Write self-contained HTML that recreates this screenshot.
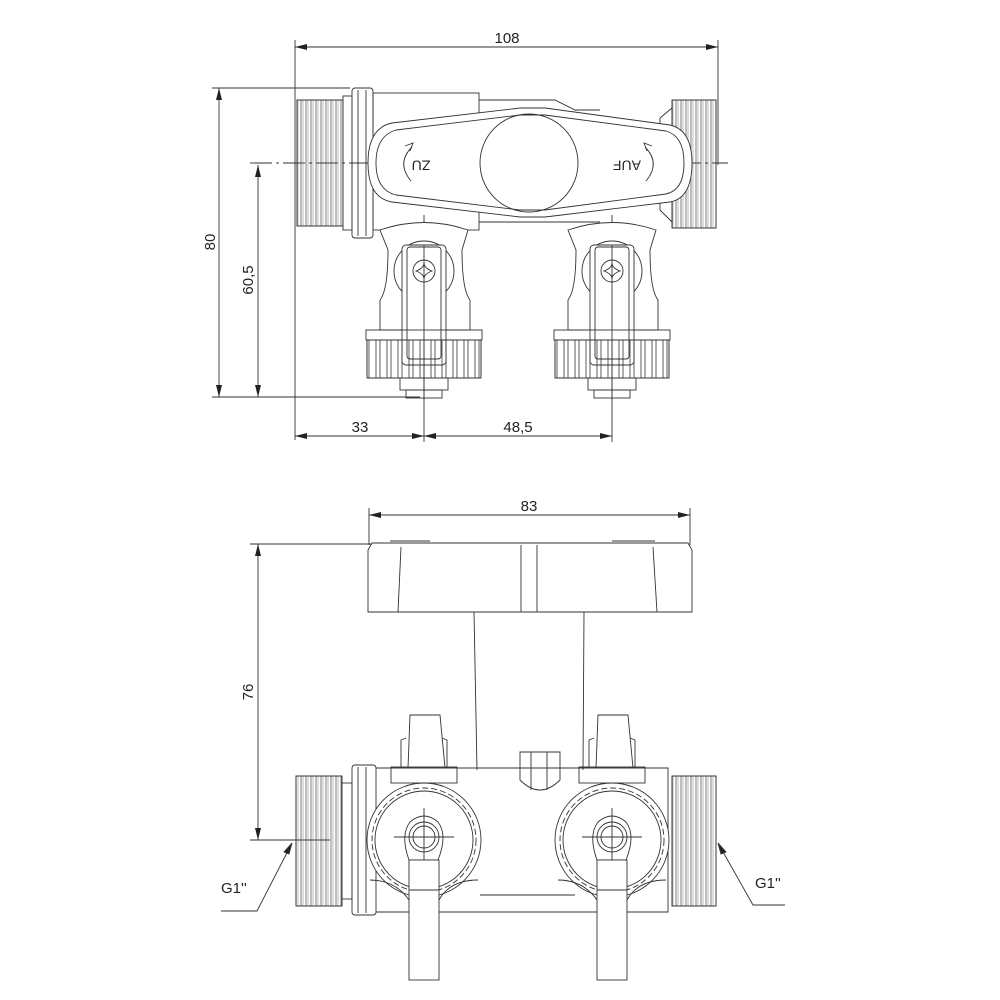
<!DOCTYPE html>
<html><head><meta charset="utf-8"><style>
html,body{margin:0;padding:0;background:#fff}
svg{display:block}
text{font-family:"Liberation Sans",sans-serif;fill:#222}
</style></head><body>
<svg width="1000" height="1000" viewBox="0 0 1000 1000" xmlns="http://www.w3.org/2000/svg">
<defs>
<marker id="a" markerWidth="12" markerHeight="6" refX="12" refY="3" orient="auto-start-reverse" markerUnits="userSpaceOnUse"><path d="M0,0 L12,3 L0,6z" fill="#222"/></marker>
<pattern id="th" width="5" height="10" patternUnits="userSpaceOnUse"><line x1="1" y1="0" x2="1" y2="10" stroke="#444" stroke-width="0.7"/><line x1="3" y1="0" x2="3" y2="10" stroke="#777" stroke-width="0.5"/></pattern>
<pattern id="kn" width="11" height="10" patternUnits="userSpaceOnUse"><line x1="2" y1="0" x2="2" y2="10" stroke="#333" stroke-width="0.8"/><line x1="6" y1="0" x2="6" y2="10" stroke="#333" stroke-width="0.8"/></pattern>
</defs>
<g fill="none" stroke="#333" stroke-width="0.9">
<line x1="295" y1="40" x2="295" y2="440"/>
<line x1="718" y1="40" x2="718" y2="165"/>
<line x1="295" y1="47" x2="718" y2="47" marker-start="url(#a)" marker-end="url(#a)"/>
<line x1="212" y1="88" x2="350" y2="88"/>
<line x1="212" y1="397" x2="420" y2="397"/>
<line x1="219" y1="88" x2="219" y2="397" marker-start="url(#a)" marker-end="url(#a)"/>
<line x1="258" y1="165" x2="258" y2="397" marker-start="url(#a)" marker-end="url(#a)"/>
<line x1="250" y1="163" x2="728" y2="163" stroke-dasharray="22,4,3,4"/>
<line x1="424" y1="215" x2="424" y2="442"/>
<line x1="612" y1="215" x2="612" y2="442"/>
<line x1="295" y1="436" x2="424" y2="436" marker-start="url(#a)" marker-end="url(#a)"/>
<line x1="424" y1="436" x2="612" y2="436" marker-start="url(#a)" marker-end="url(#a)"/>
<rect x="297" y="100" width="46" height="126" fill="url(#th)"/>
<rect x="297" y="100" width="46" height="126"/>
<rect x="343" y="96" width="9" height="134"/>
<rect x="352" y="88" width="21" height="150" rx="3"/>
<line x1="358" y1="90" x2="358" y2="236"/><line x1="366" y1="90" x2="366" y2="236"/>
<rect x="373" y="93" width="106" height="137"/>
<path d="M479 100 H555 L575 110 H600 M600 222 H479"/>
<rect x="672" y="100" width="44" height="128" fill="url(#th)"/>
<rect x="672" y="100" width="44" height="128"/>
<path d="M660 118 L672 108 M660 210 L672 222 M660 118 V210"/>
<path d="M392 123 L520 108 L545 108 L670 125 Q692 130 692 163 Q692 198 670 202 L545 217 L520 217 L392 202 Q368 198 368 163 Q368 128 392 123Z" fill="#fff"/>
<path d="M396 130 L520 115 L545 115 L666 131 Q684 136 684 163 Q684 190 666 194 L545 210 L520 210 L396 195 Q376 190 376 163 Q376 136 396 130Z"/>
<circle cx="529" cy="163" r="49"/>
<path d="M412 147 Q396 163 411 181"/><path d="M405 146 L413 143 L410 151"/>
<path d="M645 147 Q661 163 646 181"/><path d="M652 146 L644 143 L647 151"/>
<g id="v1">
<path d="M380 230 Q424 215 468 230 L462 250 Q462 290 470 300 L470 330 L380 330 L380 300 Q388 290 388 250Z" fill="#fff"/>
<circle cx="424" cy="271" r="30"/>
<rect x="402" y="245" width="44" height="120" rx="4" fill="#fff"/>
<rect x="407" y="247" width="34" height="112" rx="3"/>
<circle cx="424" cy="271" r="11"/>
<path d="M416 271 Q424 268 424 263 Q424 268 432 271 Q424 274 424 279 Q424 274 416 271Z"/>
<rect x="366" y="330" width="116" height="10"/>
<rect x="367" y="340" width="114" height="38" fill="url(#kn)"/>
<rect x="367" y="340" width="114" height="38" fill="none"/>
<rect x="400" y="378" width="48" height="12"/>
<rect x="406" y="390" width="36" height="8"/>
<line x1="424" y1="245" x2="424" y2="400"/>
</g>
<use href="#v1" transform="translate(188,0)"/>
<line x1="369" y1="508" x2="369" y2="545"/>
<line x1="690" y1="508" x2="690" y2="545"/>
<line x1="369" y1="515" x2="690" y2="515" marker-start="url(#a)" marker-end="url(#a)"/>
<line x1="250" y1="544" x2="372" y2="544"/>
<line x1="250" y1="840" x2="330" y2="840"/>
<line x1="258" y1="544" x2="258" y2="840" marker-start="url(#a)" marker-end="url(#a)"/>
<path d="M372 543 L688 543 L692 550 L692 612 L368 612 L368 550Z"/>
<line x1="401" y1="547" x2="398" y2="612"/><line x1="653" y1="547" x2="657" y2="612"/>
<line x1="521" y1="545" x2="521" y2="612"/><line x1="537" y1="545" x2="537" y2="612"/>
<line x1="390" y1="541" x2="430" y2="541"/><line x1="612" y1="541" x2="655" y2="541"/>
<path d="M474 612 L477 770 M584 612 L583 770"/>
<rect x="296" y="776" width="46" height="130" fill="url(#th)"/>
<rect x="296" y="776" width="46" height="130"/>
<rect x="342" y="783" width="10" height="116"/>
<rect x="352" y="765" width="24" height="150" rx="3"/>
<line x1="358" y1="767" x2="358" y2="913"/><line x1="366" y1="767" x2="366" y2="913"/>
<path d="M376 768 H668 V912 H376"/>
<rect x="672" y="776" width="44" height="130" fill="url(#th)"/>
<rect x="672" y="776" width="44" height="130"/>
<path d="M480 895 H575 M470 912 H580"/>
<path d="M520 752 H560 V780 Q540 800 520 780Z"/>
<line x1="531" y1="752" x2="531" y2="790"/><line x1="547" y1="752" x2="547" y2="790"/>
<g id="v2">
<rect x="391" y="767" width="66" height="16"/>
<path d="M408 768 L410 715 L440 715 L445 768"/>
<path d="M401 768 L401 740 L406 738"/><path d="M447 768 L447 740 L442 738"/>
<circle cx="424" cy="840" r="57" fill="#fff"/>
<circle cx="424" cy="840" r="52" stroke-dasharray="6,3"/>
<circle cx="424" cy="840" r="49"/>
<path d="M409 860 Q400 835 410 822 Q424 810 438 822 Q448 835 438 860Z"/>
<circle cx="424" cy="837" r="15"/><circle cx="424" cy="837" r="11"/>
<line x1="394" y1="837" x2="454" y2="837"/><line x1="424" y1="808" x2="424" y2="875"/>
<rect x="409" y="860" width="30" height="120" fill="#fff"/>
<line x1="409" y1="890" x2="439" y2="890"/>
<path d="M409 900 Q395 880 370 880 M439 900 Q450 880 478 880"/>
</g>
<use href="#v2" transform="translate(188,0)"/>
<path d="M221 911 H257 L292 843" /><path d="M292 843 L284 852 L289 854Z" fill="#222"/>
<path d="M785 905 H753 L718 843"/><path d="M718 843 L726 852 L721 854Z" fill="#222"/>
</g>
<g font-size="15">
<text x="507" y="43" text-anchor="middle">108</text>
<text x="360" y="432" text-anchor="middle">33</text>
<text x="518" y="432" text-anchor="middle">48,5</text>
<text x="529" y="511" text-anchor="middle">83</text>
<text transform="translate(215,242) rotate(-90)" text-anchor="middle">80</text>
<text transform="translate(253,280) rotate(-90)" text-anchor="middle">60,5</text>
<text transform="translate(253,692) rotate(-90)" text-anchor="middle">76</text>
<text x="221" y="893">G1''</text>
<text x="755" y="888">G1''</text>
<text transform="translate(421,164) rotate(180)" text-anchor="middle" dominant-baseline="middle" font-size="14">ZU</text>
<text transform="translate(627,164) rotate(180)" text-anchor="middle" dominant-baseline="middle" font-size="14">AUF</text>
</g>
</svg>
</body></html>
